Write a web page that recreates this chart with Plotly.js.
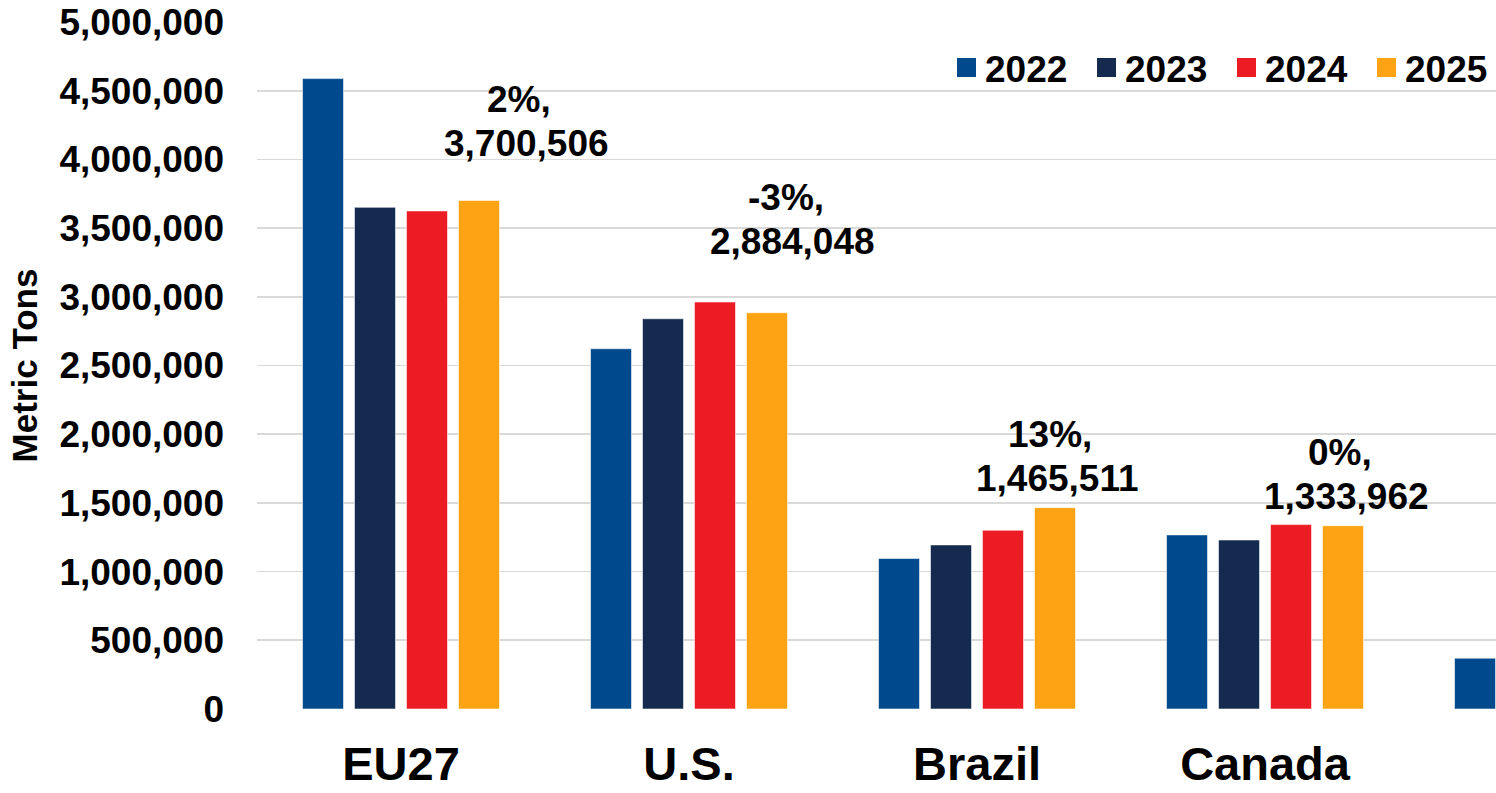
<!DOCTYPE html>
<html>
<head>
<meta charset="utf-8">
<script src="https://cdn.plot.ly/plotly-3.0.1.min.js"></script>
<style>
  html, body { margin: 0; padding: 0; background: #ffffff; }
  #chart { width: 1496px; height: 793px; }
</style>
</head>
<body>
<div id="chart"></div>
<script>
// ---- Data ----
var categories = ['EU27', 'U.S.', 'Brazil', 'Canada', 'Other'];
var years = ['2022', '2023', '2024', '2025'];
var y2022 = [4588000, 2622000, 1095000, 1267000, 370000];
var y2023 = [3651000, 2840000, 1194000, 1230000, null];
var y2024 = [3625000, 2962000, 1301000, 1342000, null];
var y2025 = [3700506, 2884048, 1465511, 1333962, null];
var pctChange = ['2%', '-3%', '13%', '0%'];
var yTickVals = [0, 500000, 1000000, 1500000, 2000000, 2500000, 3000000, 3500000, 4000000, 4500000, 5000000];
var yTickText = ['0', '500,000', '1,000,000', '1,500,000', '2,000,000', '2,500,000', '3,000,000', '3,500,000', '4,000,000', '4,500,000', '5,000,000'];
var yTitle = 'Metric Tons';

// ---- Styling / placement ----
var colors = ['#00498D', '#142A4E', '#EC1C24', '#FEA313'];
var FONT = 'Liberation Sans, Arial, Helvetica, sans-serif';
var W = 1496, H = 793;
var M = {l: 257, r: 0, t: 22, b: 84};
// label placement: category-axis position and value-axis position of the value line
var labelX = [0.434, 1.361, 2.278, 3.283];
var labelY = [4130000, 3415000, 1692000, 1560000];
var pctLineShift = 44;   // px above the value line
var pctLineXShift = -7;  // px

function fmt(n) { return n.toLocaleString('en-US'); }
function pxX(px) { return (px - M.l) / (W - M.l - M.r); }
function pxY(py) { return (H - M.b - py) / (H - M.t - M.b); }

var series = [y2022, y2023, y2024, y2025];
var traces = series.map(function (vals, i) {
  return {
    type: 'bar',
    name: years[i],
    x: categories,
    y: vals,
    marker: {color: colors[i], line: {color: 'rgba(255,255,255,0.55)', width: 1}},
    hoverinfo: 'x+y+name'
  };
});

var labelFont = {family: FONT, size: 37, color: '#000000', weight: 'bold'};
var annotations = [];
for (var k = 0; k < pctChange.length; k++) {
  annotations.push({
    xref: 'x', yref: 'y',
    x: labelX[k], y: labelY[k],
    text: fmt(y2025[k]),
    showarrow: false,
    xanchor: 'center', yanchor: 'middle',
    yshift: -1.5,
    font: labelFont
  });
  annotations.push({
    xref: 'x', yref: 'y',
    x: labelX[k], y: labelY[k],
    text: pctChange[k] + ',',
    showarrow: false,
    xanchor: 'center', yanchor: 'middle',
    xshift: pctLineXShift,
    yshift: pctLineShift - 1.5,
    font: labelFont
  });
}

// custom legend (square swatches + labels)
var shapes = [];
var legendLeft = 957, legendPitch = 140, sw = 19, legendCy = 67.5;
for (var j = 0; j < years.length; j++) {
  var x0 = legendLeft + j * legendPitch;
  shapes.push({
    type: 'rect', xref: 'paper', yref: 'paper',
    x0: pxX(x0), x1: pxX(x0 + sw),
    y0: pxY(legendCy + sw / 2), y1: pxY(legendCy - sw / 2),
    fillcolor: colors[j], line: {width: 0}
  });
  annotations.push({
    xref: 'paper', yref: 'paper',
    x: pxX(x0 + sw + 7), y: pxY(legendCy + 1.5),
    xanchor: 'left', yanchor: 'middle',
    text: years[j], showarrow: false,
    font: labelFont
  });
}

var layout = {
  width: W, height: H,
  margin: M,
  paper_bgcolor: '#ffffff',
  plot_bgcolor: '#ffffff',
  barmode: 'group',
  bargap: 0.2778,
  bargroupgap: 0.2115,
  showlegend: false,
  font: {family: FONT, color: '#000000'},
  xaxis: {
    type: 'category',
    range: [-0.5, 3.802],
    showgrid: false,
    zeroline: false,
    showline: false,
    ticks: '',
    ticklabelstandoff: 23,
    tickfont: {family: FONT, size: 47, color: '#000000', weight: 'bold'},
    fixedrange: true
  },
  yaxis: {
    range: [0, 5000000],
    tickmode: 'array',
    tickvals: yTickVals,
    ticktext: yTickText,
    showgrid: true,
    gridcolor: '#D9D9D9',
    gridwidth: 1.6,
    zeroline: false,
    showline: false,
    ticks: '',
    ticklabelstandoff: 32,
    tickfont: {family: FONT, size: 37, color: '#000000', weight: 'bold'},
    title: {text: yTitle, standoff: 11, font: {family: FONT, size: 35, color: '#000000', weight: 'bold'}},
    automargin: false,
    fixedrange: true
  },
  annotations: annotations,
  shapes: shapes
};

Plotly.newPlot('chart', traces, layout, {displayModeBar: false, staticPlot: true});
</script>
</body>
</html>
